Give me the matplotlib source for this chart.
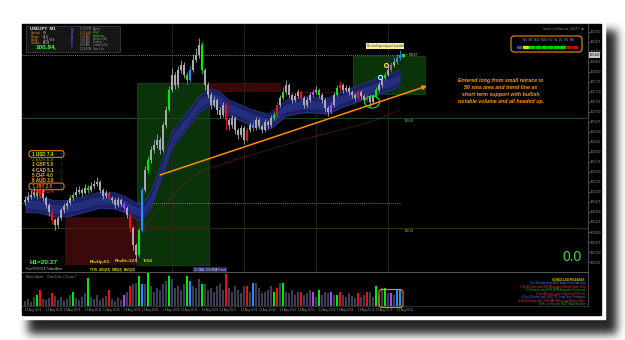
import numpy as np
import matplotlib
matplotlib.use("Agg")
import matplotlib.pyplot as plt
from matplotlib.patches import Rectangle, FancyBboxPatch, Ellipse

plt.rcParams['font.family'] = ['Liberation Sans', 'DejaVu Sans']

# ---------------- data ----------------
open0 = 100.475
close = [
    100.480, 100.488, 100.493, 100.500, 100.490, 100.505, 100.485, 100.468, 100.450, 100.430,
    100.418, 100.435, 100.455, 100.465, 100.473, 100.485, 100.493, 100.500, 100.505, 100.498,
    100.510, 100.505, 100.515, 100.520, 100.525, 100.505, 100.490, 100.498, 100.485, 100.480,
    100.468, 100.480, 100.470, 100.460, 100.443, 100.410, 100.368, 100.343, 100.405, 100.505,
    100.555, 100.580, 100.605, 100.618, 100.630, 100.605, 100.668, 100.705, 100.755, 100.793,
    100.768, 100.805, 100.818, 100.793, 100.780, 100.805, 100.830, 100.843, 100.868, 100.805,
    100.768, 100.743, 100.718, 100.730, 100.705, 100.693, 100.718, 100.680, 100.668, 100.685,
    100.655, 100.643, 100.660, 100.630, 100.655, 100.668, 100.660, 100.680, 100.665, 100.655,
    100.675, 100.668, 100.685, 100.693, 100.718, 100.735, 100.750, 100.768, 100.743, 100.730,
    100.740, 100.750, 100.735, 100.718, 100.730, 100.743, 100.750, 100.755, 100.743, 100.730,
    100.710, 100.700, 100.718, 100.743, 100.760, 100.768, 100.755, 100.760, 100.750, 100.743,
    100.735, 100.750, 100.740, 100.730, 100.738, 100.725, 100.740, 100.755, 100.768, 100.785,
    100.793, 100.805, 100.818, 100.825, 100.835, 100.843]
high = [
    100.490, 100.500, 100.505, 100.512, 100.508, 100.520, 100.510, 100.490, 100.472, 100.455,
    100.436, 100.440, 100.460, 100.472, 100.480, 100.492, 100.500, 100.512, 100.515, 100.510,
    100.520, 100.518, 100.525, 100.530, 100.538, 100.530, 100.510, 100.505, 100.503, 100.490,
    100.485, 100.487, 100.485, 100.476, 100.465, 100.448, 100.415, 100.372, 100.410, 100.512,
    100.565, 100.590, 100.615, 100.630, 100.645, 100.638, 100.675, 100.715, 100.765, 100.810,
    100.800, 100.815, 100.830, 100.825, 100.800, 100.815, 100.845, 100.860, 100.885, 100.875,
    100.810, 100.775, 100.750, 100.740, 100.735, 100.712, 100.725, 100.722, 100.685, 100.692,
    100.690, 100.660, 100.668, 100.665, 100.662, 100.675, 100.678, 100.688, 100.685, 100.670,
    100.682, 100.680, 100.692, 100.700, 100.725, 100.742, 100.762, 100.780, 100.772, 100.748,
    100.748, 100.758, 100.755, 100.740, 100.738, 100.750, 100.758, 100.765, 100.760, 100.748,
    100.735, 100.715, 100.725, 100.750, 100.768, 100.778, 100.772, 100.768, 100.765, 100.755,
    100.748, 100.756, 100.755, 100.745, 100.744, 100.742, 100.746, 100.762, 100.775, 100.792,
    100.800, 100.815, 100.825, 100.835, 100.845, 100.855]
low = [
    100.468, 100.474, 100.482, 100.488, 100.482, 100.485, 100.478, 100.460, 100.440, 100.420,
    100.405, 100.410, 100.430, 100.448, 100.458, 100.468, 100.478, 100.488, 100.494, 100.490,
    100.494, 100.498, 100.500, 100.510, 100.515, 100.498, 100.482, 100.485, 100.478, 100.472,
    100.460, 100.463, 100.464, 100.452, 100.435, 100.400, 100.355, 100.325, 100.338, 100.400,
    100.500, 100.548, 100.572, 100.598, 100.610, 100.595, 100.600, 100.660, 100.700, 100.750,
    100.758, 100.760, 100.798, 100.785, 100.770, 100.775, 100.800, 100.825, 100.835, 100.795,
    100.755, 100.735, 100.708, 100.712, 100.695, 100.685, 100.688, 100.655, 100.655, 100.660,
    100.645, 100.632, 100.638, 100.620, 100.625, 100.650, 100.652, 100.655, 100.658, 100.648,
    100.650, 100.660, 100.662, 100.680, 100.688, 100.712, 100.730, 100.745, 100.735, 100.722,
    100.725, 100.735, 100.728, 100.710, 100.712, 100.725, 100.738, 100.745, 100.735, 100.722,
    100.700, 100.690, 100.695, 100.712, 100.738, 100.752, 100.748, 100.750, 100.742, 100.736,
    100.728, 100.730, 100.733, 100.722, 100.724, 100.712, 100.720, 100.736, 100.750, 100.763,
    100.780, 100.790, 100.800, 100.812, 100.820, 100.830]
volume = [
    15, 20, 12, 25, 30, 45, 20, 18, 22, 35,
    28, 18, 25, 15, 20, 30, 40, 22, 18, 25,
    35, 78, 25, 20, 30, 18, 22, 28, 45, 20,
    15, 22, 18, 30, 40, 55, 60, 65, 85, 62,
    60, 95, 55, 40, 50, 45, 60, 70, 85, 75,
    50, 55, 45, 60, 85, 70, 55, 50, 75, 60,
    60, 45, 50, 40, 55, 60, 45, 90, 50, 40,
    55, 45, 35, 55, 56, 40, 65, 65, 50, 35,
    40, 45, 55, 40, 50, 65, 65, 40, 35, 45,
    30, 40, 38, 30, 35, 45, 38, 25, 45, 30,
    40, 35, 38, 30, 32, 40, 30, 25, 35, 28,
    22, 35, 25, 30, 38, 40, 25, 55, 30, 50,
    50, 35, 35, 30, 48, 45]
green_bars = [4, 16, 21, 38, 41, 48, 54, 59, 83, 86, 98, 104, 117, 120]
red_bars = [5, 9, 28, 35, 67, 74, 84, 92, 105, 111, 114]
blue_bars = [39, 55, 76, 124, 125]
purple_bars = [33, 96, 102, 122]

ma_idx = [0, 5, 10, 15, 20, 25, 30, 33, 37, 39, 42, 45, 49, 55, 58, 62, 65, 68, 72, 76,
          81, 83, 87, 92, 96, 101, 105, 110, 116, 122, 125]
ma_val = [100.470, 100.468, 100.458, 100.460, 100.470, 100.480, 100.478, 100.470, 100.453, 100.448,
          100.480, 100.543, 100.630, 100.688, 100.720, 100.738, 100.730, 100.710, 100.698, 100.685,
          100.675, 100.685, 100.710, 100.718, 100.718, 100.715, 100.730, 100.743, 100.760, 100.775,
          100.785]
sma_idx = [38, 43, 48, 53, 58, 65, 72, 81, 92, 105, 115, 125]
sma_val = [100.393, 100.443, 100.480, 100.518, 100.550, 100.568, 100.585, 100.605, 100.630,
           100.655, 100.675, 100.705]
trend_idx = [45, 134]
trend_val = [100.5425, 100.765]
green_boxes = [(37.3, 61.3, 100.3175, 100.7725), (109.3, 133.3, 100.745, 100.84)]
red_boxes = [(13.3, 37.3, 100.3175, 100.4375), (61.3, 85.3, 100.75, 100.7725)]
current_price = 100.8425
pivot_level = 100.4725
levels = [100.685, 100.41]
level_labels = ["100.68", "100.40"]
marker_idx = [118.3, 120.3]
marker_val = [100.7875, 100.8175]
sep_idx = [49, 73, 97, 121]

date_pos = [0, 7, 13, 20, 26, 33, 39, 46, 52, 59, 65, 72, 78, 85, 91, 98, 104, 111, 117, 124]
date_txt = ["13 Aug 18:22", "13 Aug 18:29", "13 Aug 18:35", "13 Aug 18:42", "13 Aug 18:48",
            "13 Aug 18:55", "13 Aug 19:01", "13 Aug 19:08", "13 Aug 19:14", "13 Aug 19:21",
            "13 Aug 19:27", "13 Aug 19:34", "13 Aug 19:40", "13 Aug 19:47", "13 Aug 19:53",
            "13 Aug 20:00", "13 Aug 20:06", "13 Aug 20:13", "13 Aug 20:19", "13 Aug 20:26"]

strength_names = ["1 USD 7.4", "2 EUR 6.6", "3 GBP 5.9", "4 CAD 5.1",
                  "5 CHF 4.0", "6 AUD 3.6", "7 JPY 2.0", "8 NZD 1.4"]
strength_cols = ['#c8f000', '#6e6e00', '#d8a848', '#ffb080', '#e8c000', '#ffb020', '#ff6a00', '#e82020']
strength_arrow = ['↑', '↑', '↑', '↓', '↑', '↑', '↓', '↓']

releases = ["SCHEDULED RELEASES",
            "1 hr 18 mins since AUD Wage Price Index q/q",
            "3 hrs 42 mins until GBP Average Earnings Index 3m/y",
            "1 hr 8 mins until EUR ZEW Economic Sentiment",
            "(3 hrs 42 mins) until USD Core CPI m/m",
            "(2 hrs 12 mins) until USD TIC Long-Term Purchases",
            "(4 hrs 12 mins) until USD NAHB Housing Market Index",
            "(8 hrs 1 min) until NZD Trade Balance"]
release_cols = ['#d8d800', '#4a8cff', '#ff3030', '#20c020', '#ff3030', '#4a8cff', '#ff3030', '#20c020']

tf_labels = "M1  M5  M15  M30  H1  H4  D1  W1  MN"
tf_colors = ['#3050a0', '#e0e000', '#00d000', '#00d000', '#00d000', '#00d000',
             '#00d000', '#00d000', '#e00000', '#e00000']

sessions = ['Sydney', 'Tokyo', 'Hongkong', 'Moscow (M)', 'Frankfurt', 'London (ON)', 'New York']
session_cols = ['#909090', '#30d030', '#30d030', '#909090', '#909090', '#909090', '#909090']
session_times = ['11:00 PM', '12:00 AM', '1:00 AM', '3:00 AM', '7:00 AM', '8:00 AM', '12:00 PM']

note = ("Entered long from small retrace to\n50 sma area and trend line as\n"
        "short term support with bullish\nnotable volume and all headed up.")

# ---------------- figure ----------------
W, H = 625, 340
fig = plt.figure(figsize=(6.25, 3.4), dpi=100)


def frac(x0, y0, x1, y1):
    return [x0 / W, 1 - y1 / H, (x1 - x0) / W, (y1 - y0) / H]


bg = fig.add_axes([0, 0, 1, 1])
bg.set_axis_off()
mask = np.zeros((H, W))
mask[30:334, 28:617] = 1.0
kk = np.exp(-0.5 * (np.arange(-14, 15) / 4.5) ** 2)
kk /= kk.sum()
mask = np.apply_along_axis(lambda r: np.convolve(r, kk, mode='same'), 1, mask)
mask = np.apply_along_axis(lambda c: np.convolve(c, kk, mode='same'), 0, mask)
bg.imshow(1 - 0.85 * mask, cmap='gray', vmin=0, vmax=1, extent=(0, W, H, 0), aspect='auto')
bg.set_xlim(0, W)
bg.set_ylim(H, 0)
bg.add_patch(Rectangle((18, 20), 587, 299, color='white'))
bg.add_patch(Rectangle((22, 24), 579, 291, color='black'))

n = min(len(close), len(high), len(low), len(volume))
x = np.arange(n)
c = np.array(close[:n])
o = np.r_[open0, c[:-1]]
hi = np.array(high[:n])
lo = np.array(low[:n])

gray = '#a9a9b5'
bar_cols = [gray] * n
vol_cols = ['#3d3d55'] * n
for lst, col in ((green_bars, '#00ee00'), (red_bars, '#ee1010'),
                 (blue_bars, '#2090ff'), (purple_bars, '#b040ff')):
    for i in lst:
        if i < n:
            bar_cols[i] = col
            vol_cols[i] = col

xmax = (588 - 25) / 3.0

# main price axes
ax = fig.add_axes(frac(22, 24, 588, 272))
ax.set_facecolor('black')
ax.patch.set_alpha(0)
ax.set_xlim(-1, xmax)
ax.set_ylim(100.30, 100.92)

for (x0, x1, y0, y1) in green_boxes:
    ax.add_patch(Rectangle((x0, y0), x1 - x0, y1 - y0, fc='#0a330a', ec='#145214', lw=0.5, zorder=1))
for (x0, x1, y0, y1) in red_boxes:
    ax.add_patch(Rectangle((x0, y0), x1 - x0, y1 - y0, fc='#3a0909', ec='none', zorder=1))
ax.hlines(red_boxes[1][2], red_boxes[1][1], green_boxes[1][0], color='#3a0909', lw=0.8, zorder=1)

ax.axhline(levels[0], color='#1d4a1d', lw=0.7, zorder=1.2)
ax.axhline(levels[1], color='#3a2a10', lw=0.7, zorder=1.2)
for lv, lb in zip(levels, level_labels):
    ax.text(126.5, lv - 0.003, lb, fontsize=2.2, color='#aaaaaa', va='top', zorder=6)
ax.vlines(sep_idx, 100.30, 100.92, color='#2a2a2a', lw=0.5, zorder=1.1)
ax.hlines(current_price, -1, 126, color='#777777', lw=0.7, linestyles=(0, (1, 1)), zorder=1.3)
ax.hlines(pivot_level, -1, 125, color='#9a9a9a', lw=0.6, linestyles=(0, (1, 1.5)), zorder=1.3)

ma_v = np.array(ma_val)
ax.fill_between(ma_idx, ma_v - 0.021, ma_v + 0.021, color='#1a2163', lw=0, zorder=2)
ax.fill_between(ma_idx, ma_v - 0.010, ma_v + 0.010, color='#252e7c', lw=0, zorder=2.1)
ax.plot(ma_idx, ma_v + 0.02, color='#323c98', lw=0.4, zorder=2.2)
ax.plot(ma_idx, ma_v - 0.02, color='#323c98', lw=0.4, zorder=2.2)
ax.plot(sma_idx, sma_val, color='#8a2050', lw=0.7, ls=(0, (1, 1.2)), zorder=2.3)

ax.vlines(x, lo, hi, colors=bar_cols, lw=0.6, zorder=3)
ax.bar(x, np.maximum(np.abs(c - o), 0.0015), bottom=np.minimum(c, o), width=0.6,
       color=bar_cols, lw=0, zorder=3.1)

ax.annotate('', xy=(trend_idx[1], trend_val[1]), xytext=(trend_idx[0], trend_val[0]),
            arrowprops=dict(arrowstyle='-|>', color='#ff8c00', lw=1.1, mutation_scale=6,
                            shrinkA=0, shrinkB=0), zorder=4)
ax.scatter([marker_idx[0]], [marker_val[0]], s=9, facecolor='#1a3a4a', edgecolor='#a0f0ff', lw=0.8, zorder=5)
ax.scatter([marker_idx[1]], [marker_val[1]], s=9, facecolor='#2040c0', edgecolor='#f0e000', lw=0.8, zorder=5)
ax.add_patch(Ellipse((115.7, 100.725), 5.0, 0.03, fill=False, ec='#22dd22', lw=0.8, zorder=5))

ax.yaxis.tick_right()
ticks = np.arange(100.325, 100.92, 0.025)
ax.set_yticks(ticks)
ax.set_yticklabels(['%.3f' % t for t in ticks])
ax.tick_params(axis='y', labelsize=2.0, colors='#9a9a9a', length=1.2, width=0.4, pad=0.8)
ax.set_xticks([])
for s in ('top', 'left'):
    ax.spines[s].set_visible(False)
ax.spines['right'].set_color('#555555')
ax.spines['right'].set_linewidth(0.6)
ax.spines['bottom'].set_color('#555555')
ax.spines['bottom'].set_linewidth(0.8)
ax.annotate('%.3f' % current_price, xy=(1, current_price), xycoords=('axes fraction', 'data'),
            xytext=(1.2, 0), textcoords='offset points', fontsize=2.0, color='black', va='center',
            bbox=dict(fc='#c8c8c8', ec='none', pad=0.4), annotation_clip=False, zorder=7)

# volume axes
vax = fig.add_axes(frac(22, 273, 588, 306))
vax.patch.set_alpha(0)
vax.bar(x, volume[:n], width=0.55, color=vol_cols, lw=0)
vax.set_xlim(-1, xmax)
vax.set_ylim(0, 92)
vax.set_yticks([])
vax.set_xticks(date_pos)
vax.set_xticklabels(date_txt)
vax.tick_params(axis='x', labelsize=2.0, colors='#999999', length=0, pad=1.2)
for lbl in vax.get_xticklabels():
    lbl.set_ha('left')
for s in ('top', 'left'):
    vax.spines[s].set_visible(False)
vax.spines['right'].set_color('#555555')
vax.spines['right'].set_linewidth(0.6)
vax.spines['bottom'].set_color('#444444')
vax.spines['bottom'].set_linewidth(0.5)

# overlay for text / panels
ov = fig.add_axes([0, 0, 1, 1], zorder=10)
ov.set_xlim(0, W)
ov.set_ylim(H, 0)
ov.set_axis_off()
ov.patch.set_alpha(0)


def t(xp, yp, s, col, fs, **kw):
    ha = kw.pop('ha', 'left')
    va = kw.pop('va', 'center')
    return ov.text(xp, yp, s, color=col, fontsize=fs, ha=ha, va=va, **kw)


# info box top-left
ov.add_patch(Rectangle((26, 26), 94, 26, fc='#161616', ec='#444444', lw=0.5))
t(30, 29.5, 'USDJPY  M1', '#f0f0f0', 3.2, weight='bold')
for k, (lab, val) in enumerate(zip(['Spread:', 'Range:', 'Swap:', 'Candle:'],
                                   ['0.9', '44.9', '-1.2 / 0.9', '00:33'])):
    t(31, 33.3 + 3.3 * k, lab, '#d09030', 2.1)
    t(43, 33.3 + 3.3 * k, val, '#e0e0e0', 2.1)
t(36, 47.5, '100.84', '#33ff33', 4.6, weight='bold')
t(54, 48.5, 'a', '#33ff33', 2.0)
for k, ch in enumerate('MARKET'):
    t(72, 30 + 3.3 * k, ch, '#5060e0', 2.2, weight='bold', ha='center')
for k in range(len(sessions)):
    t(80, 29.3 + 3.2 * k, session_times[k], '#c08a30' if k in (1, 2) else '#9a9a9a', 1.8)
    t(93, 29.3 + 3.2 * k, sessions[k], session_cols[k], 1.8)

# top right
t(584, 28.5, 'InstaForex-Demo.com, USDJPY  \u24d8', '#8a8a8a', 1.8, ha='right',
  family=['Liberation Sans', 'Noto Sans CJK SC', 'DejaVu Sans'])
ov.add_patch(FancyBboxPatch((511, 36), 71, 16, boxstyle='round,pad=0,rounding_size=3',
                            fc='none', ec='#ff8c00', lw=0.8))
t(549, 40.3, tf_labels, '#8fa0d0', 2.1, ha='center')
for k, col in enumerate(tf_colors):
    ov.add_patch(Rectangle((517 + k * 6.2, 46.3), 4.4, 1.6, color=col))

# strength list
for k, (nm, colr, ar) in enumerate(zip(strength_names, strength_cols, strength_arrow)):
    yy = 154 + 5.4 * k
    t(32, yy, nm, colr, 3.3, weight='bold')
    t(59, yy, ar, '#22ee22' if ar == '↑' else '#ee2222', 3.3, weight='bold')
for k in (0, 6):
    yy = 154 + 5.4 * k
    ov.add_patch(FancyBboxPatch((29, yy - 3.3), 35, 6.6, boxstyle='round,pad=0,rounding_size=2.5',
                                fc='none', ec='#ff8c00', lw=0.7))

# labels in chart
t(30, 262.5, 'H1=20:27', '#33ff33', 4.6, weight='bold')
t(26, 269.5, 'Prior PIVOTS & Trades/Alerts', '#c8c8c8', 2.0)
t(90, 261.5, 'RevUp:63', '#c8e820', 3.2, weight='bold')
t(115, 261.5, 'RevDn:127', '#c8e820', 3.2, weight='bold')
t(143, 261.5, 'T=52', '#e8e800', 3.2, weight='bold')
t(90, 270, 'TXTR   ADX(14)   DMI(14)   MAX(14)', '#e0e000', 2.0, weight='bold')
t(210, 269.5, '20 SMA, 200 SMA Trend', '#e0e0ff', 2.1, ha='center',
  bbox=dict(fc='#25286a', ec='none', pad=0.7))
t(26, 276.5, 'Better Volume     Chart Scale: 2, Count: 7', '#9a9a9a', 2.0)
t(385, 46, 'Re: trailing stop pull to profit', '#333333', 2.1, ha='center',
  bbox=dict(fc='#f2eea0', ec='none', pad=0.7))
ov.add_patch(Rectangle((402, 54), 2, 2, color='#22dd22'))
t(406, 55, '< 00:27', '#e8e8b0', 2.4)
t(501, 91, note, '#ff9900', 3.8, ha='center', style='italic', weight='bold', linespacing=1.45)
t(572, 257, '0.0', '#3ddc3d', 10, ha='center')
ov.add_patch(FancyBboxPatch((379, 289.5), 24, 18, boxstyle='round,pad=0,rounding_size=3',
                            fc='none', ec='#ff8c00', lw=0.8))
for k, (txt, colr) in enumerate(zip(releases, release_cols)):
    t(585, 280 + 3.45 * k, txt, colr, 2.0, ha='right', weight='bold' if k == 0 else 'normal')

fig.savefig('out.png', dpi=100, facecolor='white')
